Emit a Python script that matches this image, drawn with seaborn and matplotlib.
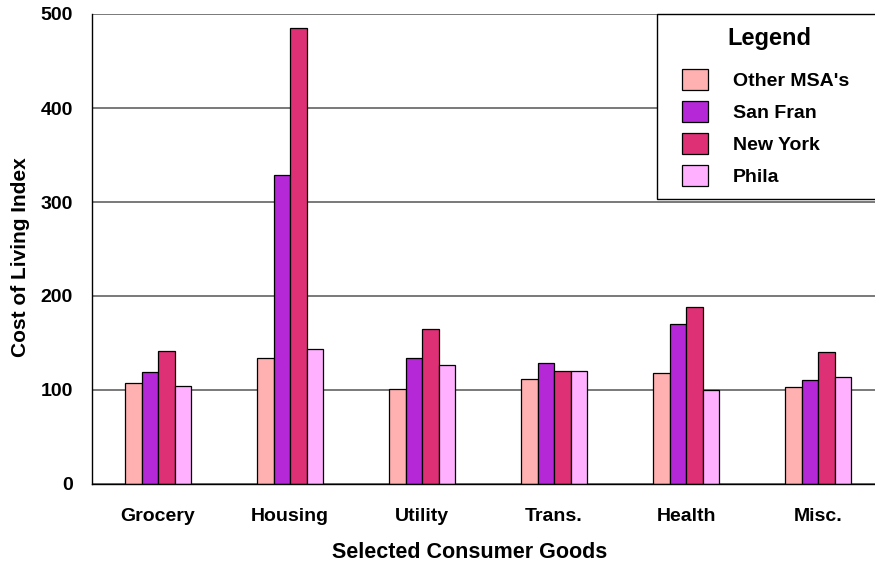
import numpy as np
import pandas as pd
import seaborn as sns
import matplotlib.pyplot as plt
from matplotlib.patches import Rectangle

# values
goods = ["Grocery", "Housing", "Utility", "Trans.", "Health", "Misc."]
cities = ["Other MSA's", "San Fran", "New York", "Phila"]
other_msa = [107, 134, 101, 112, 118, 103]
san_fran = [119, 329, 134, 129, 170, 111]
new_york = [141, 485, 165, 120, 188, 140]
phila = [104, 144, 127, 120, 100, 114]
city_colors = ["#FFB0B0", "#B428D8", "#DD3075", "#FFB0FF"]

rows = []
for city, vals in zip(cities, [other_msa, san_fran, new_york, phila]):
    for g, v in zip(goods, vals):
        rows.append({"good": g, "city": city, "value": v})
df = pd.DataFrame(rows)

sns.set_style("white")
plt.rcParams["font.family"] = ["Liberation Sans", "DejaVu Sans"]
plt.rcParams["font.weight"] = "bold"
plt.rcParams["text.color"] = "black"
plt.rcParams["axes.labelcolor"] = "black"
plt.rcParams["xtick.color"] = "black"
plt.rcParams["ytick.color"] = "black"

fig = plt.figure(figsize=(8.75, 5.67), dpi=100)
W, H = 875, 567
# plot area runs a little past the right edge, as in the reference
ax = fig.add_axes([92 / W, (H - 484) / H, (884 - 92) / W, 470 / H])

sns.barplot(data=df, x="good", y="value", hue="city", order=goods,
            hue_order=cities, palette=city_colors, width=0.5,
            edgecolor="black", linewidth=0.9, saturation=1, ax=ax,
            errorbar=None)

ax.set_ylim(0, 500)
ax.set_xlim(-0.5, 5.5)
ax.set_yticks([0, 100, 200, 300, 400, 500])
ax.yaxis.grid(True, color="#555555", linewidth=1.1)
ax.set_axisbelow(True)

for side in ["top", "right"]:
    ax.spines[side].set_visible(False)
for side in ["left", "bottom"]:
    ax.spines[side].set_color("black")
    ax.spines[side].set_linewidth(1.0)

ax.tick_params(axis="y", length=8.6, width=1.0, color="#555555", pad=5,
               labelsize=14, labelcolor="black")
ax.tick_params(axis="x", length=8.6, width=1.0, color="#333333", pad=9,
               labelsize=14, labelcolor="black")
ax.set_xticks(np.arange(-0.5, 6, 1.0), minor=True)
ax.tick_params(axis="x", which="minor", length=2, width=1.0, color="#777777")

ax.set_xlabel("Selected Consumer Goods", fontsize=15.5, fontweight="bold")
ax.xaxis.set_label_coords((470 - 92) / 792, -(542 - 484) / 470)
ax.set_ylabel("Cost of Living Index", fontsize=15, fontweight="bold")
ax.yaxis.set_label_coords(-(92 - 30) / 792, (484 - 257) / 470)

handles, labels = ax.get_legend_handles_labels()
ax.get_legend().remove()

# legend box, drawn by hand so it can run off the right edge
fig.patches.append(Rectangle((657 / W, 1 - 199 / H), 230 / W, 185 / H,
                             transform=fig.transFigure, facecolor="white",
                             edgecolor="black", linewidth=1.0, zorder=3))
fig.text(769 / W, 1 - 38 / H, "Legend", fontsize=17, fontweight="bold",
         ha="center", va="center", zorder=4)
leg = fig.legend(handles, labels, loc="upper left",
                 bbox_to_anchor=(682 / W, 1 - 69 / H),
                 fontsize=14, frameon=False, handlelength=1.35,
                 handleheight=1.3, labelspacing=0.55, handletextpad=1.25,
                 borderpad=0, borderaxespad=0)
leg.set_zorder(4)
for h in leg.legend_handles:
    h.set_edgecolor("black")
    h.set_linewidth(0.9)

fig.savefig("out.png", dpi=100)
